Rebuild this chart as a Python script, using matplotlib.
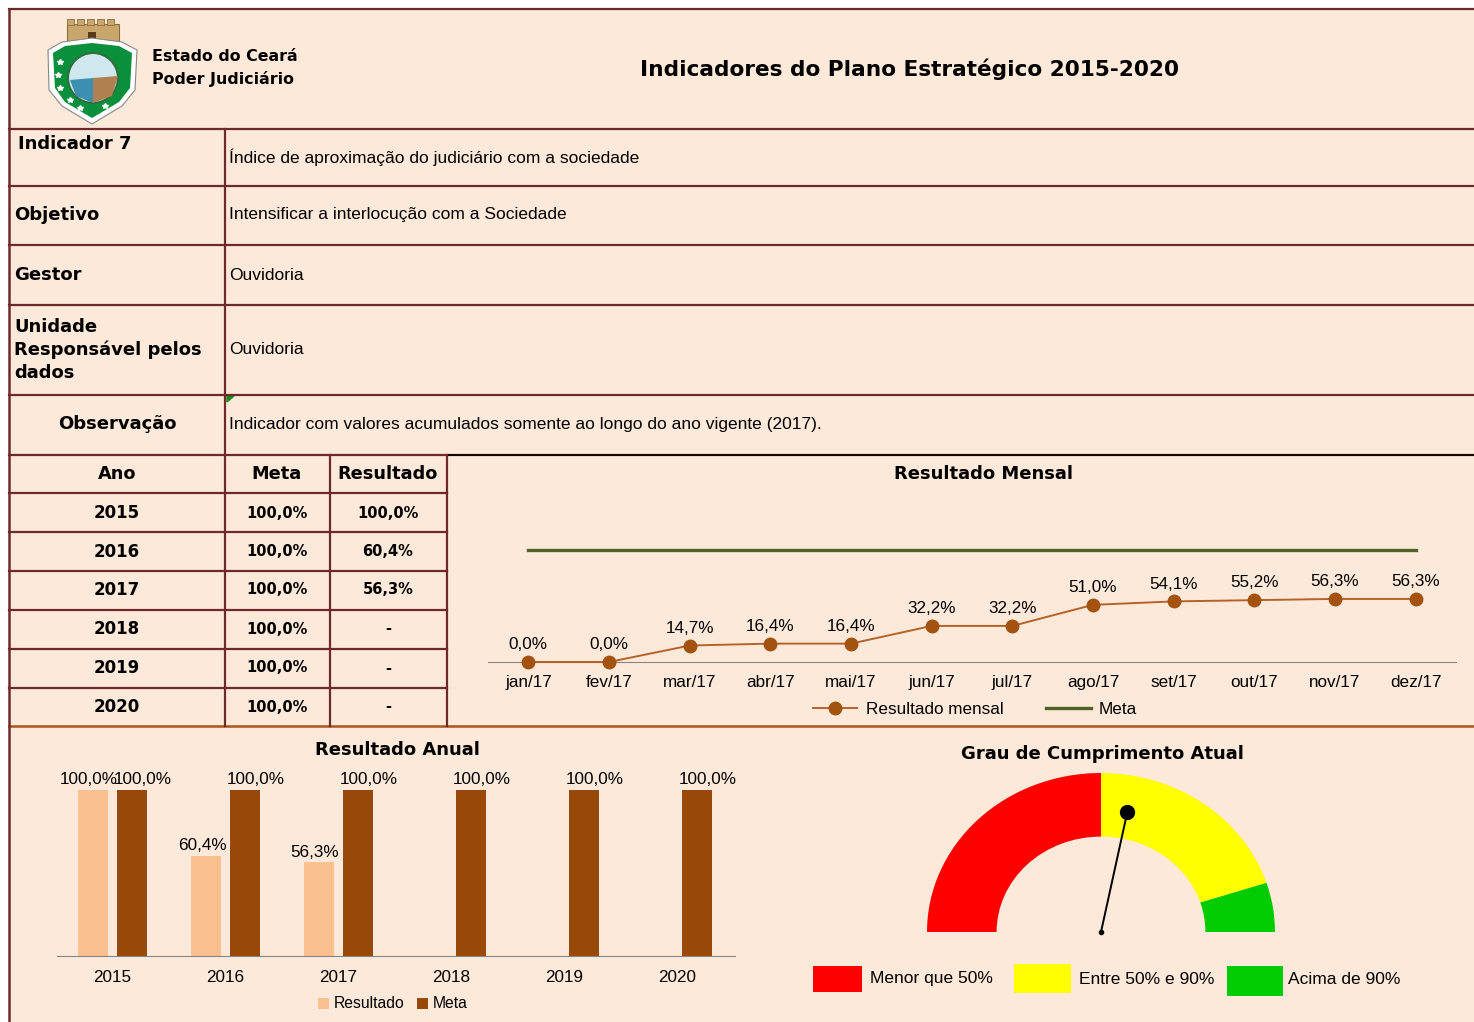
import matplotlib
matplotlib.use('Agg')
import matplotlib.pyplot as plt
from matplotlib.patches import Rectangle, Wedge, Polygon, Circle
import numpy as np

plt.rcParams['font.family'] = ['Liberation Sans', 'DejaVu Sans']

W, H = 1474, 1022
BG = '#FDE9D9'
LINE = '#6E2A2A'
BOLD = 'DejaVu Sans'

# ---- data ----
titulo = 'Indicadores do Plano Estratégico 2015-2020'
orgao = 'Estado do Ceará\nPoder Judiciário'
info_labels = ['Indicador 7', 'Objetivo', 'Gestor', 'Unidade\nResponsável pelos\ndados', 'Observação']
info_values = ['Índice de aproximação do judiciário com a sociedade',
               'Intensificar a interlocução com a Sociedade',
               'Ouvidoria',
               'Ouvidoria',
               'Indicador com valores acumulados somente ao longo do ano vigente (2017).']
table_header = ['Ano', 'Meta', 'Resultado']
anos = ['2015', '2016', '2017', '2018', '2019', '2020']
meta_anual = [100.0, 100.0, 100.0, 100.0, 100.0, 100.0]
resultado_anual = [100.0, 60.4, 56.3, None, None, None]
meses = ['jan/17', 'fev/17', 'mar/17', 'abr/17', 'mai/17', 'jun/17',
         'jul/17', 'ago/17', 'set/17', 'out/17', 'nov/17', 'dez/17']
resultado_mensal = [0.0, 0.0, 14.7, 16.4, 16.4, 32.2, 32.2, 51.0, 54.1, 55.2, 56.3, 56.3]
meta_mensal = 100.0
faixas = [0, 50, 90, 100]
faixa_labels = ['Menor que 50%', 'Entre 50% e 90%', 'Acima de 90%']
faixa_cores = ['#FF0000', '#FFFF00', '#00CC00']
grau_atual = 56.3


def pct(v):
    return f'{v:.1f}%'.replace('.', ',')


def px_axes(x0, y0, x1, y1):
    return fig.add_axes([x0 / W, 1 - y1 / H, (x1 - x0) / W, (y1 - y0) / H])


fig = plt.figure(figsize=(W / 100, H / 100), dpi=100, facecolor='white')
bg = fig.add_axes([0, 0, 1, 1])
bg.set_xlim(0, W)
bg.set_ylim(H, 0)
bg.axis('off')
bg.add_patch(Rectangle((9, 9), W - 9, H - 9, facecolor=BG, edgecolor='none'))

# grid lines
for y in [9, 129, 186, 245, 305, 395, 455]:
    bg.plot([9, W], [y, y], color=LINE, lw=1.6)
for y in [493, 532, 571, 610, 649, 688]:
    bg.plot([9, 447], [y, y], color=LINE, lw=1.6)
bg.plot([447, W], [455, 455], color='black', lw=1.2)
bg.plot([9, W], [726, 726], color='#A9541F', lw=1.8)
bg.plot([9, 9], [9, H], color=LINE, lw=1.8)
bg.plot([225, 225], [129, 726], color=LINE, lw=1.6)
bg.plot([330, 330], [455, 726], color=LINE, lw=1.6)
bg.plot([447, 447], [455, 726], color=LINE, lw=1.6)
bg.add_patch(Polygon([(227, 396), (234, 396), (227, 402)], color='#1E8A1E'))

# logo (simplified coat of arms)
bg.add_patch(Rectangle((67, 24), 52, 18, facecolor='#C9A66B', edgecolor='#8A6D3B', lw=0.8))
for cx in [67, 77, 87, 97, 107]:
    bg.add_patch(Rectangle((cx, 19), 7, 6, facecolor='#C9A66B', edgecolor='#8A6D3B', lw=0.6))
bg.add_patch(Rectangle((88, 32), 8, 10, facecolor='#5A3A1A', edgecolor='none'))
bg.add_patch(Polygon([(48, 50), (62, 42), (92, 38), (122, 42), (137, 50), (135, 90),
                      (122, 106), (92, 124), (62, 106), (49, 90)],
                     facecolor='white', edgecolor='#888888', lw=0.8))
bg.add_patch(Polygon([(53, 53), (65, 46), (92, 43), (119, 46), (132, 53), (130, 88),
                      (119, 102), (92, 118), (65, 102), (55, 88)],
                     facecolor='#0A8F3C', edgecolor='none'))
bg.add_patch(Circle((93, 78), 25, facecolor='#CFE8F0', edgecolor='#2E6E3A', lw=1.5))
bg.add_patch(Polygon([(93, 78), (118, 76), (112, 96), (93, 103)], facecolor='#B08050'))
bg.add_patch(Polygon([(70, 80), (93, 78), (93, 103), (76, 96)], facecolor='#3C8FB0'))
for sx, sy in [(60, 62), (58, 75), (60, 88), (70, 100), (80, 108), (105, 106)]:
    bg.plot(sx, sy, marker='*', color='white', ms=4)

# header texts
bg.text(152, 68, orgao, fontsize=11.4, fontweight='bold', family=BOLD, va='center', ha='left',
        linespacing=1.5)
bg.text(910, 69, titulo, fontsize=15.6, fontweight='bold', family=BOLD, va='center', ha='center')

# info rows
label_pos = [(18, 144, 'left'), (14, 215, 'left'), (14, 275, 'left'), (14, 350, 'left'),
             (117, 424, 'center')]
value_y = [157, 215, 275, 349, 424]
for (lx, ly, ha), lab, vy, val in zip(label_pos, info_labels, value_y, info_values):
    bg.text(lx, ly, lab, fontsize=13, fontweight='bold', family=BOLD, va='center', ha=ha,
            linespacing=1.3)
    bg.text(229, vy, val, fontsize=12.5, va='center', ha='left')

# table
col_x = [117, 277, 388]
for cx, h in zip(col_x, table_header):
    bg.text(cx, 474, h, fontsize=12.8, fontweight='bold', family=BOLD, ha='center', va='center')
row_y = [513, 552, 590, 629, 668, 707]
for ry, ano, m, r in zip(row_y, anos, meta_anual, resultado_anual):
    bg.text(col_x[0], ry, ano, fontsize=12, fontweight='bold', family=BOLD, ha='center', va='center')
    bg.text(col_x[1], ry, pct(m), fontsize=10.5, fontweight='bold', family=BOLD, ha='center', va='center')
    bg.text(col_x[2], ry, pct(r) if r is not None else '-', fontsize=10.5, fontweight='bold',
            family=BOLD, ha='center', va='center')

# ---- Resultado Mensal ----
bg.text(984, 474, 'Resultado Mensal', fontsize=13, fontweight='bold', family=BOLD,
        ha='center', va='center')
ax1 = px_axes(488, 500, 1456, 662)
ax1.set_facecolor('none')
xm = np.arange(len(meses))
ax1.plot(xm, resultado_mensal, color='#B4622A', lw=1.4, marker='o', ms=9,
         mfc='#A3520F', mec='#A3520F', label='Resultado mensal', clip_on=False, zorder=3)
ax1.plot([xm[0], xm[-1]], [meta_mensal, meta_mensal], color='#4F6228', lw=2.4, label='Meta')
for xi, v in zip(xm, resultado_mensal):
    ax1.annotate(pct(v), (xi, v), xytext=(0, 7), textcoords='offset points',
                 ha='center', va='bottom', fontsize=12.3)
ax1.set_xlim(-0.5, 11.5)
ax1.set_ylim(0, 144.6)
ax1.set_xticks(xm)
ax1.set_xticklabels(meses, fontsize=12.3)
ax1.tick_params(axis='x', length=0, pad=9)
ax1.set_yticks([])
for s in ['top', 'left', 'right']:
    ax1.spines[s].set_visible(False)
ax1.spines['bottom'].set_color('#868686')
ax1.legend(loc='center', bbox_to_anchor=(975 / W, 1 - 709 / H), bbox_transform=fig.transFigure,
           ncol=2, frameon=False, fontsize=12.3, handlelength=2.6, columnspacing=2.5,
           handletextpad=0.5)

# ---- Resultado Anual ----
bg.text(397, 750, 'Resultado Anual', fontsize=13, fontweight='bold', family=BOLD,
        ha='center', va='center')
ax2 = px_axes(57, 760, 735, 956)
ax2.set_facecolor('none')
xb = np.arange(len(anos))
bw = 0.265
idx = [i for i, r in enumerate(resultado_anual) if r is not None]
res_vals = [resultado_anual[i] for i in idx]
b1 = ax2.bar(xb[idx] - 0.17, res_vals, bw, color='#FAC090', label='Resultado')
b2 = ax2.bar(xb + 0.17, meta_anual, bw, color='#984807', label='Meta')
for rect, v in zip(b1, res_vals):
    ax2.annotate(pct(v), (rect.get_x() + rect.get_width() / 2, v), xytext=(-3, 2),
                 textcoords='offset points', ha='center', va='bottom', fontsize=12.3)
for rect, v in zip(b2, meta_anual):
    ax2.annotate(pct(v), (rect.get_x() + rect.get_width() / 2, v), xytext=(8, 2),
                 textcoords='offset points', ha='center', va='bottom', fontsize=12.3)
ax2.set_xlim(-0.49, 5.51)
ax2.set_ylim(0, 118)
ax2.set_xticks(xb)
ax2.set_xticklabels(anos, fontsize=12.3)
ax2.tick_params(axis='x', length=0, pad=10)
ax2.set_yticks([])
for s in ['top', 'left', 'right']:
    ax2.spines[s].set_visible(False)
ax2.spines['bottom'].set_color('#868686')
ax2.legend(loc='center', bbox_to_anchor=(393 / W, 1 - 1004 / H), bbox_transform=fig.transFigure,
           ncol=2, frameon=False, fontsize=11.3, handlelength=0.7, handleheight=0.7,
           columnspacing=0.8, handletextpad=0.3)

# ---- Grau de Cumprimento Atual ----
bg.text(1102, 754, 'Grau de Cumprimento Atual', fontsize=13, fontweight='bold', family=BOLD,
        ha='center', va='center')
ax3 = px_axes(927, 773, 1275, 932)
ax3.set_xlim(-1, 1)
ax3.set_ylim(0, 1)
ax3.axis('off')
for lo, hi, c in zip(faixas[:-1], faixas[1:], faixa_cores):
    ax3.add_patch(Wedge((0, 0), 1, 180 * (1 - hi / 100), 180 * (1 - lo / 100), width=0.4,
                        facecolor=c, edgecolor='none'))
ang = np.radians(180 * (1 - grau_atual / 100))
tip = (0.77 * np.cos(ang), 0.77 * np.sin(ang))
ax3.plot([0, tip[0]], [0, tip[1]], color='black', lw=1.4, clip_on=False)
ax3.plot(tip[0], tip[1], 'o', color='black', ms=10, clip_on=False)
ax3.plot(0, 0, 'o', color='black', ms=3, clip_on=False)

leg_boxes = [(813, 966, 49, 26), (1014, 964, 57, 29), (1227, 966, 56, 30)]
leg_text_x = [870, 1079, 1288]
for (bx, by, bwid, bh), tx, lab, c in zip(leg_boxes, leg_text_x, faixa_labels, faixa_cores):
    bg.add_patch(Rectangle((bx, by), bwid, bh, facecolor=c, edgecolor='none'))
    bg.text(tx, 979, lab, fontsize=12.5, ha='left', va='center')

fig.savefig('out.png', dpi=100, facecolor=fig.get_facecolor())
